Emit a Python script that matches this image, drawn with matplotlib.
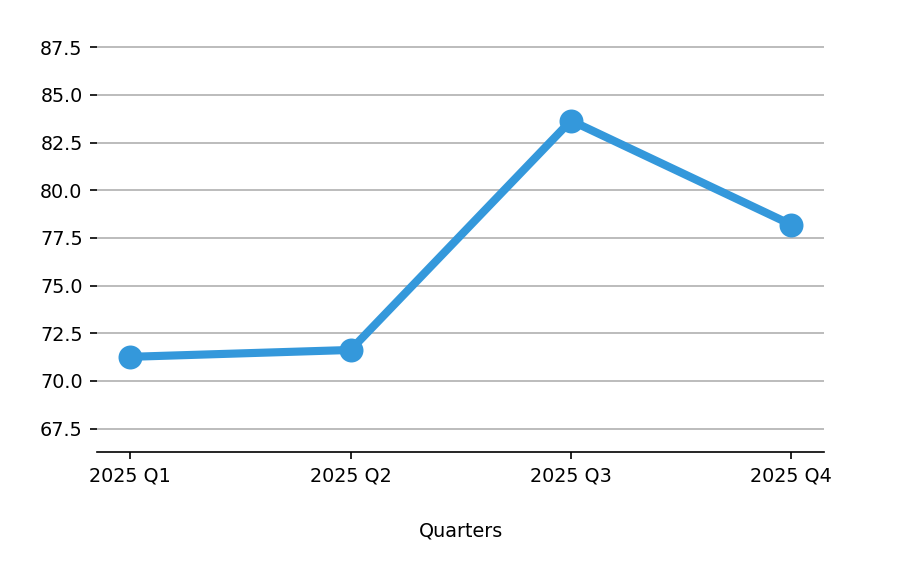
import numpy as np
from matplotlib import pyplot as plt

quarters = ["2025 Q1", "2025 Q2", "2025 Q3", "2025 Q4"]
values = [71.26, 71.62, 83.65, 78.19]

plt.rcParams["font.size"] = 9.2

fig, ax = plt.subplots(figsize=(6, 3.74), dpi=150)
fig.subplots_adjust(left=0.108, right=0.916, bottom=0.194, top=0.955)

x = np.arange(len(quarters))
ax.plot(x, values, color="#3498db", linewidth=3.9, marker="o", markersize=10.5)

ax.set_xticks(x)
ax.set_xticklabels(quarters)
ax.set_xlim(-0.15, 3.15)
ax.set_ylim(min(values) - 5, max(values) + 5)
ax.set_yticks(np.arange(67.5, 88, 2.5))
ax.set_xlabel("Quarters", labelpad=17)

ax.yaxis.grid(True)
ax.set_axisbelow(True)
for side in ["top", "right", "left"]:
    ax.spines[side].set_visible(False)

plt.savefig("out.png", dpi=150)
